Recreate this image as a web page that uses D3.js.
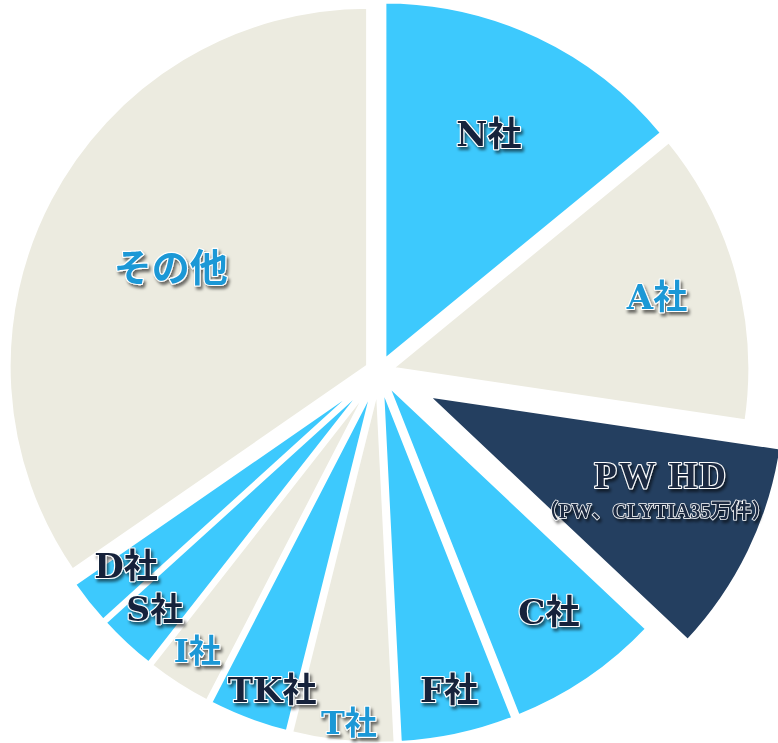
<!DOCTYPE html>
<html><head><meta charset="utf-8">
<script src="https://cdn.jsdelivr.net/npm/d3@7"></script>
<style>html,body{margin:0;padding:0;background:#fff;}svg{display:block;}</style>
</head><body>
<svg id="chart" width="778" height="743"></svg>
<script>
// ---- data ----
const categories = ["その他","N社","A社","PW HD","C社","F社","T社","TK社","I社","S社","D社"];
const shares     = [34.7, 14.1, 13.3, 9.7, 7.0, 5.2, 4.7, 3.7, 3.0, 2.7, 2.1];
const subLabels  = ["","","","（PW、CLYTIA35万件）","","","","","","",""];
const colorGroup = ["beige","blue","beige","navy","blue","blue","beige","blue","beige","blue","blue"];

// ---- layout / style ----
const cx = 379, cy = 372, R = 360;
const palette = {blue:"#3dc9fd", beige:"#ecebe0", navy:"#243f60"};
const textColor = {blue:"#14223a", beige:"#1b98d6", navy:"#1b2a42"};
const explode = [12,12,12,52,12,12,12,12,12,12,12];
// label polar position: [angle in degrees clockwise from 12 o'clock, radius]
const labelPolar = [[296.6,233],[24.8,262],[74.9,288],[113.2,307],[144.7,294],[167.6,326],[184.9,352],[198.6,335],[213.1,333],[223.3,327],[232.5,319]];
const labelSize = [38,34,34,37,34,34,32,34,32,33,34];

const svg = d3.select("#chart");
const defs = svg.append("defs");
const f = defs.append("filter").attr("id","shadow").attr("x","-20%").attr("y","-20%").attr("width","140%").attr("height","160%");
f.append("feDropShadow").attr("dx",2).attr("dy",3).attr("stdDeviation",1.6).attr("flood-color","#000").attr("flood-opacity",0.55);

const data = categories.map((c,i)=>({name:c, value:shares[i], i}));
const startA = -shares[0]/d3.sum(shares)*2*Math.PI;
const pie = d3.pie().sort(null).value(d=>d.value).startAngle(startA).endAngle(startA+2*Math.PI);
const arc = d3.arc().innerRadius(0).outerRadius(R);
const arcs = pie(data);

const g = svg.append("g").attr("transform",`translate(${cx},${cy})`);
g.selectAll("path.slice").data(arcs).join("path")
  .attr("class","slice")
  .attr("d",arc)
  .attr("fill",d=>palette[colorGroup[d.data.i]])
  .attr("stroke","#fff").attr("stroke-width",4.5).attr("stroke-linejoin","miter")
  .attr("transform",d=>{
    const m=(d.startAngle+d.endAngle)/2, e=explode[d.data.i];
    return `translate(${e*Math.sin(m)},${-e*Math.cos(m)})`;
  });

const latinFont = "'DejaVu Serif','Noto Sans CJK JP',serif";
const pwFont = "'Liberation Serif','Noto Sans CJK JP',serif";
const lg = g.selectAll("g.lab").data(arcs).join("g").attr("class","lab")
  .attr("transform",d=>{
    const p=labelPolar[d.data.i], a=p[0]*Math.PI/180;
    return `translate(${p[1]*Math.sin(a)},${-p[1]*Math.cos(a)})`;
  })
  .attr("filter","url(#shadow)");

lg.each(function(d){
  const sel=d3.select(this), i=d.data.i, grp=colorGroup[i];
  const two = subLabels[i] !== "";
  sel.append("text")
    .attr("text-anchor","middle").attr("dominant-baseline","central")
    .attr("y", two ? -17 : 0)
    .attr("font-family", two ? pwFont : latinFont).attr("font-weight","bold")
    .attr("font-size",labelSize[i])
    .attr("letter-spacing", two ? 2 : 0)
    .attr("fill",textColor[grp])
    .attr("stroke","#fff").attr("stroke-width",2.2).attr("paint-order","stroke")
    .attr("stroke-linejoin","round")
    .text(two ? d.data.name.replace(" ","  ") : d.data.name);
  if(two){
    sel.append("text")
      .attr("text-anchor","middle").attr("dominant-baseline","central")
      .attr("x",-6).attr("y",18)
      .attr("font-family",pwFont).attr("font-weight","bold")
      .attr("font-size",20.5)
      .attr("fill",textColor[grp])
      .attr("stroke","#fff").attr("stroke-width",1.5).attr("paint-order","stroke")
      .attr("stroke-linejoin","round")
      .text(subLabels[i]);
  }
});
</script>
</body></html>
